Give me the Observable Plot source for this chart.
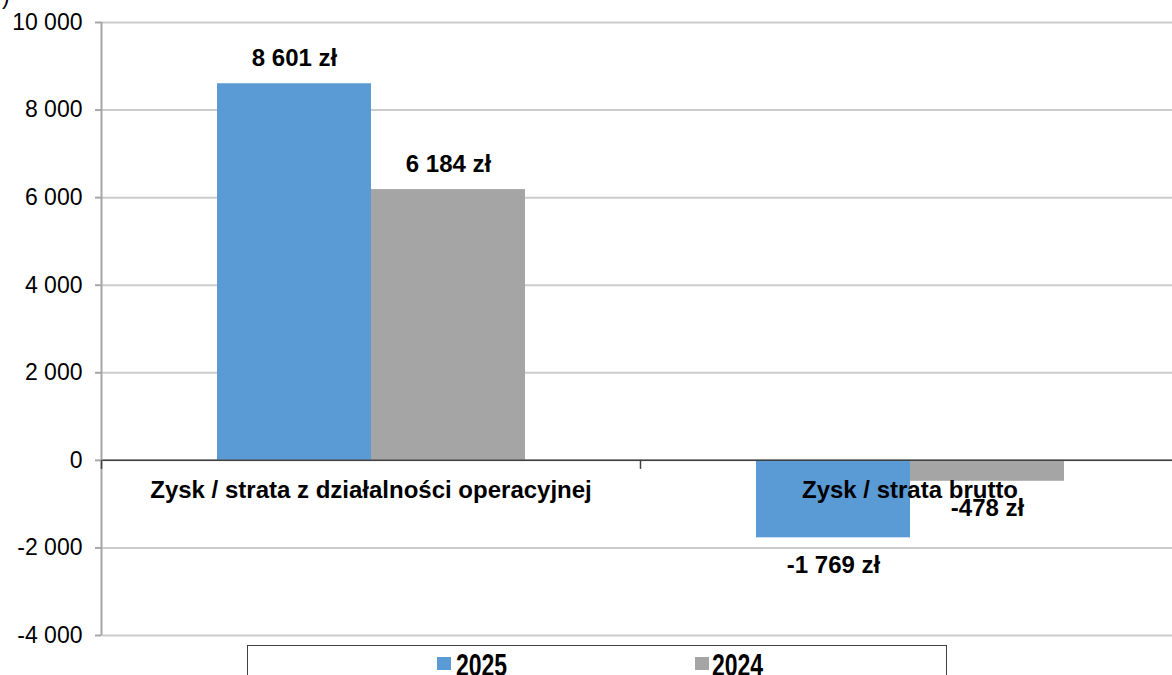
<!DOCTYPE html>
<html>
<head>
<meta charset="utf-8">
<script src="https://cdn.jsdelivr.net/npm/d3@7"></script>
<script src="https://cdn.jsdelivr.net/npm/@observablehq/plot@0.6"></script>
<style>
  body { margin: 0; background: #fff; font-family: "Liberation Sans", Arial, sans-serif; }
  #wrap { position: relative; width: 1172px; height: 675px; overflow: hidden; background: #fff; }
  #frag { position: absolute; left: 2px; top: -17px; font-size: 23px; color: #000; }
  #chart { position: absolute; left: 0; top: 0; }
  #legend { position: absolute; left: 247px; top: 645px; width: 700px; height: 45px; border: 1px solid #404040; box-sizing: border-box; background: #fff; }
  .sw { position: absolute; top: 11px; width: 14px; height: 13px; }
  .lt { position: absolute; top: 11px; font-family: "Liberation Sans", Arial, sans-serif; font-weight: bold; font-size: 23px; line-height: 23px; color: #000; transform: scaleY(1.35); transform-origin: 0 19.5px; white-space: nowrap; }
</style>
</head>
<body>
<div id="wrap">
  <div id="chart"></div>
  <div id="frag">)</div>
  <div id="legend"></div>
</div>
<script>
const categories = ["Zysk / strata z działalności operacyjnej", "Zysk / strata brutto"];
const series = ["2025", "2024"];
const values2025 = [8601, -1769];
const values2024 = [6184, -478];
const yTicks = [-4000, -2000, 0, 2000, 4000, 6000, 8000, 10000];
const colors = ["#5b9bd5", "#a5a5a5"];

const data = categories.flatMap((c, i) => [
  {cat: c, series: series[0], value: values2025[i]},
  {cat: c, series: series[1], value: values2024[i]}
]);

const locale = d3.formatLocale({decimal: ",", thousands: " ", grouping: [3], minus: "-"});
const fmt = locale.format(",d");

const W = 1172, H = 675, mL = 101, mR = -7, mT = 22, mB = 40;
const halfFacet = (W - mL - mR) / categories.length / 2;
const yDom = [-4000, 10000];
const tickLenUnits = 9 * (yDom[1] - yDom[0]) / (H - mT - mB);

const chart = Plot.plot({
  width: W, height: H,
  marginLeft: mL, marginRight: mR, marginTop: mT, marginBottom: mB,
  style: {fontFamily: "Liberation Sans, Arial, sans-serif", background: "white", overflow: "hidden"},
  fx: {domain: categories, padding: 0, axis: null, label: null},
  x: {domain: series, paddingInner: 0, paddingOuter: 0.75, axis: null, label: null},
  y: {domain: yDom, axis: null, label: null},
  color: {domain: series, range: colors},
  marks: [
    Plot.gridY(yTicks, {stroke: "#cccccc", strokeOpacity: 1, strokeWidth: 2}),
    Plot.barY(data, {fx: "cat", x: "series", y: "value", fill: "series"}),
    Plot.ruleY([0], {stroke: "#404040", strokeWidth: 1.5}),
    Plot.ruleX([categories[0]], {fx: d => d, x: null, dx: -halfFacet, y1: yDom[0], y2: yDom[1], stroke: "#a6a6a6", strokeWidth: 2}),
    Plot.ruleX(categories, {fx: d => d, x: null, dx: -halfFacet, y1: 0, y2: -tickLenUnits, stroke: "#404040", strokeWidth: 1.5}),
    Plot.axisY(yTicks, {tickSize: 6, tickPadding: 13, tickFormat: fmt, fontSize: 23, stroke: "#a6a6a6", strokeWidth: 2, fill: "black", label: null}),
    Plot.text(data, {filter: d => d.value >= 0, fx: "cat", x: "series", y: "value", text: d => fmt(d.value) + " zł", dy: -25, fontSize: 24, fontWeight: "bold", fill: "black"}),
    Plot.text(data, {filter: d => d.value < 0, fx: "cat", x: "series", y: "value", text: d => fmt(d.value) + " zł", dy: 27, fontSize: 24, fontWeight: "bold", fill: "black"}),
    Plot.text(categories, {fx: d => d, y: d => 0, text: d => d, dy: 30, fontSize: 24, fontWeight: "bold", fill: "black"})
  ]
});
document.getElementById("chart").appendChild(chart);

const legend = document.getElementById("legend");
const swLeft = [189, 447];
const txLeft = [208, 464];
series.forEach((s, i) => {
  const sw = document.createElement("div");
  sw.className = "sw";
  sw.style.left = swLeft[i] + "px";
  sw.style.background = colors[i];
  legend.appendChild(sw);
  const t = document.createElement("div");
  t.className = "lt";
  t.style.left = txLeft[i] + "px";
  t.textContent = s;
  legend.appendChild(t);
});
</script>
</body>
</html>
